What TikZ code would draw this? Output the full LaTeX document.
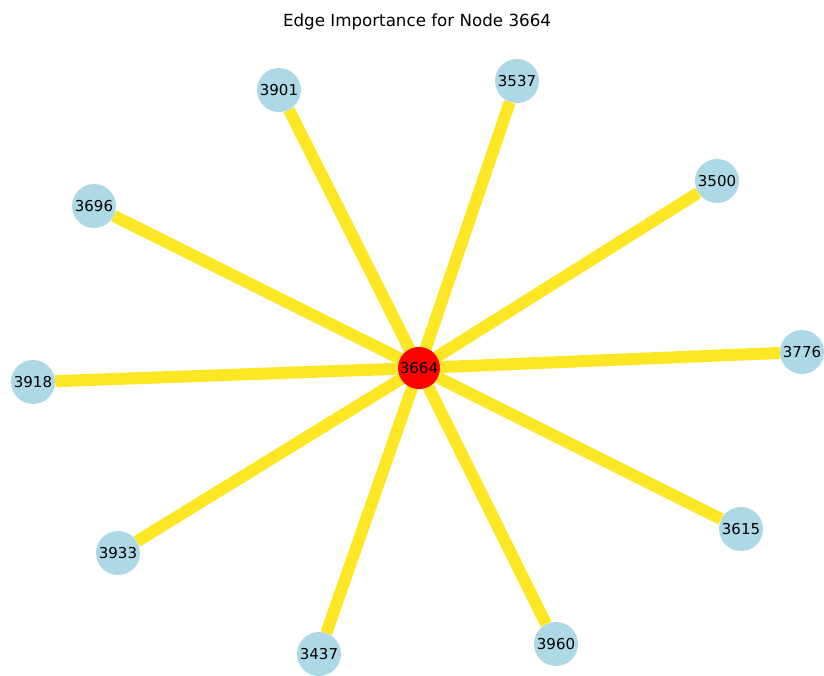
\documentclass[tikz,border=0pt]{standalone}
\usepackage{fontspec}
\setmainfont{DejaVu Sans}
\definecolor{lb}{HTML}{ADD8E6}
\definecolor{ey}{HTML}{FDE725}
\begin{document}
\begin{tikzpicture}[x=1pt,y=-1pt,
  nd/.style={circle,fill=lb,minimum size=44pt,inner sep=0pt,font=\fontsize{15}{17}\selectfont},
  ctr/.style={nd,fill=red,minimum size=42pt},
  edg/.style={draw=ey,line width=12pt}]
\useasboundingbox (0,0) rectangle (824,675);
\node[font=\fontsize{16.7}{19}\selectfont] (title) at (417,22) {Edge Importance for Node 3664};
\node[ctr] (c) at (419,368) {};
\node[nd] (n3901) at (279,90) {3901};
\node[nd] (n3537) at (517,81) {3537};
\node[nd] (n3500) at (717,181) {3500};
\node[nd] (n3696) at (94,206) {3696};
\node[nd] (n3776) at (802,352) {3776};
\node[nd] (n3918) at (33,382) {3918};
\node[nd] (n3615) at (741,529) {3615};
\node[nd] (n3933) at (118,553) {3933};
\node[nd] (n3437) at (319,654) {3437};
\node[nd] (n3960) at (556,644) {3960};
\foreach \n in {3901,3537,3500,3696,3776,3918,3615,3933,3437,3960}
  \draw[edg] (c.center) -- (n\n);
\node[ctr] at (c.center) {3664};
\end{tikzpicture}
\end{document}
